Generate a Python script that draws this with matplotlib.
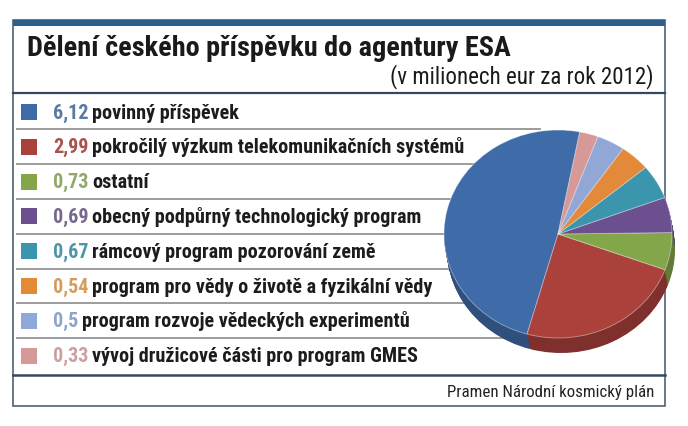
import matplotlib
matplotlib.use("Agg")
import matplotlib.pyplot as plt
import matplotlib.colors as mcolors
from matplotlib.patches import Rectangle
from matplotlib.transforms import Affine2D
from matplotlib import font_manager as fm

title = "Dělení českého příspěvku do agentury ESA"
subtitle = "(v milionech eur za rok 2012)"
source = "Pramen Národní kosmický plán"
categories = [
    "povinný příspěvek",
    "pokročilý výzkum telekomunikačních systémů",
    "ostatní",
    "obecný podpůrný technologický program",
    "rámcový program pozorování země",
    "program pro vědy o životě a fyzikální vědy",
    "program rozvoje vědeckých experimentů",
    "vývoj družicové části pro program GMES",
]
values = [6.12, 2.99, 0.73, 0.69, 0.67, 0.54, 0.5, 0.33]
colors = ["#3f6ba8", "#ab413b", "#84a64b", "#6c4f8f", "#3b95ad",
          "#e3893a", "#91a8d6", "#d69998"]
value_colors = ["#5a7aa2", "#aa524e", "#90a868", "#77698e", "#4f95a8",
                "#d69c5e", "#90a4c8", "#caa1a1"]

names = {f.name for f in fm.fontManager.ttflist}
family = next((n for n in ["Roboto Condensed", "Liberation Sans Narrow",
                           "Open Sans Condensed", "Noto Sans Condensed",
                           "Liberation Sans"] if n in names), "DejaVu Sans")
plt.rcParams["font.family"] = [family, "DejaVu Sans"]

fig = plt.figure(figsize=(6.88, 4.27), dpi=100)
fig.patch.set_facecolor("white")
ax = fig.add_axes([0, 0, 1, 1])


def reset():
    ax.set_xlim(0, 688)
    ax.set_ylim(427, 0)
    ax.set_aspect("auto")
    ax.axis("off")


reset()
renderer = fig.canvas.get_renderer()


def fit(t, width):
    w = t.get_window_extent(renderer).width
    t.set_fontsize(t.get_fontsize() * width / w)


frame_col = "#3e5366"
ax.add_patch(Rectangle((13, 21), 652, 386, fill=False, edgecolor=frame_col,
                       linewidth=1.1, zorder=1))
ax.add_patch(Rectangle((13, 21), 652, 6, facecolor="#2e5e8b",
                       edgecolor="none", zorder=2))
ax.plot([13, 665], [94, 94], color="#34495c", linewidth=1.6, zorder=2)
ax.plot([13, 665], [376, 376], color="#34495c", linewidth=1.8, zorder=2)

t = ax.text(27, 49, title, fontsize=18, fontweight="bold", color="#1a1a1a",
            va="center", ha="left")
fit(t, 483)
t = ax.text(654, 77, subtitle, fontsize=14, color="#1a1a1a",
            va="center", ha="right")
fit(t, 265)
t = ax.text(654, 393, source, fontsize=10, color="#222222",
            va="center", ha="right")
fit(t, 206)

# rows
row_y0, row_step = 113, 34.8
val_strs = [f"{v:g}".replace(".", ",") for v in values]
tmp = ax.text(0, 0, val_strs[1] + " " + categories[1], fontsize=14,
              fontweight="bold")
fs = 14 * 414 / tmp.get_window_extent(renderer).width
tmp.remove()

for i, (cat, vs) in enumerate(zip(categories, val_strs)):
    y = row_y0 + i * row_step
    ax.add_patch(Rectangle((21, y - 8), 16, 16, facecolor=colors[i],
                           edgecolor="none", zorder=3))
    nt = ax.text(53, y, vs, fontsize=fs, fontweight="bold",
                 color=value_colors[i], va="center", ha="left", zorder=3)
    ax.annotate(cat, xy=(1, 0), xycoords=nt, xytext=(4, 0),
                textcoords="offset pixels", fontsize=fs, fontweight="bold",
                color="#1c1c1c", va="bottom", ha="left", zorder=3)
    if i < len(categories) - 1:
        ly = y + row_step / 2
        ax.plot([17, 540], [ly, ly], color="#9c9c9c", linewidth=1.4,
                zorder=2)

# 3D pie
cx, cy, rx, ry = 558, 235, 114, 104
depth, ddx = 15, 3
side = [tuple(c * 0.74 for c in mcolors.to_rgb(col)) for col in colors]
for k in range(depth, 0, -1):
    wedges, _ = ax.pie(values, colors=side, startangle=79, counterclock=True,
                       radius=1, center=(0, 0),
                       wedgeprops=dict(linewidth=0))
    for w in wedges:
        w.set_transform(Affine2D().scale(rx, -ry)
                        .translate(cx + ddx * k / depth, cy + k)
                        + ax.transData)
        w.set_zorder(5 + (depth - k) * 0.01)
wedges, _ = ax.pie(values, colors=colors, startangle=79, counterclock=True,
                   radius=1, center=(0, 0),
                   wedgeprops=dict(linewidth=0.6, edgecolor=(1, 1, 1, 0.45)))
for w in wedges:
    w.set_transform(Affine2D().scale(rx, -ry).translate(cx, cy)
                    + ax.transData)
    w.set_zorder(6)
reset()

fig.savefig("out.png", dpi=100, facecolor="white")
